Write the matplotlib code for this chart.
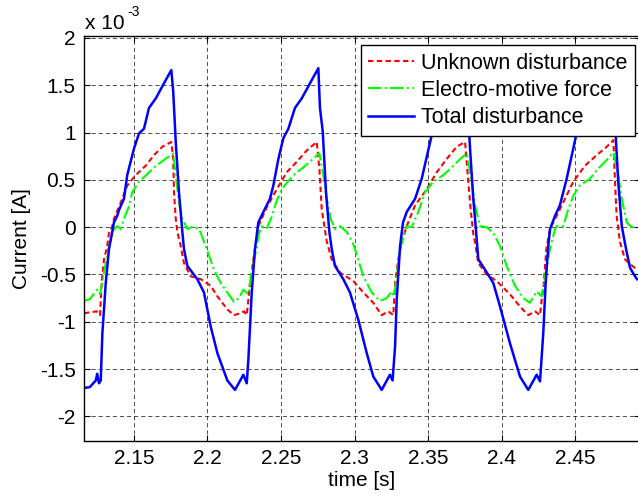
import numpy as np
import matplotlib
matplotlib.use("Agg")
import matplotlib.pyplot as plt
from matplotlib.ticker import FuncFormatter, MultipleLocator

plt.rcParams['font.family'] = ['Liberation Sans', 'DejaVu Sans']
plt.rcParams['axes.unicode_minus'] = False

# Unknown disturbance (x 1e-3 A)
t_unk = [2.1160, 2.1200, 2.1246, 2.1269, 2.1280, 2.1296, 2.1318, 2.1330, 2.1352, 2.1364,
         2.1410, 2.1454, 2.1512, 2.1580, 2.1636, 2.1693, 2.1754, 2.1767, 2.1772, 2.1784,
         2.1795, 2.1818, 2.1840, 2.1886, 2.1954, 2.2022, 2.2067, 2.2135, 2.2180, 2.2226,
         2.2248, 2.2267, 2.2289, 2.2312, 2.2323, 2.2346, 2.2403, 2.2471, 2.2539, 2.2607,
         2.2675, 2.2743, 2.2761, 2.2777, 2.2811, 2.2845, 2.2901, 2.2992, 2.3060, 2.3128,
         2.3185, 2.3230, 2.3264, 2.3276, 2.3298, 2.3321, 2.3355, 2.3412, 2.3491, 2.3559,
         2.3627, 2.3695, 2.3752, 2.3774, 2.3790, 2.3810, 2.3820, 2.3842, 2.3899, 2.3967,
         2.4058, 2.4126, 2.4182, 2.4228, 2.4262, 2.4273, 2.4284, 2.4305, 2.4330, 2.4352,
         2.4375, 2.4432, 2.4488, 2.4568, 2.4647, 2.4716, 2.4761, 2.4772, 2.4783, 2.4806,
         2.4840, 2.4874, 2.4922]
v_unk = [-0.91, -0.90, -0.89, -0.93, -0.59, -0.34, -0.20, -0.06, 0.01, 0.09,
         0.26, 0.44, 0.55, 0.65, 0.76, 0.85, 0.90, 0.72, 0.37, 0.09,
         -0.05, -0.20, -0.38, -0.52, -0.55, -0.62, -0.73, -0.87, -0.93, -0.91,
         -0.89, -0.93, -0.60, -0.34, -0.23, 0.01, 0.21, 0.40, 0.58, 0.69,
         0.81, 0.90, 0.62, 0.19, -0.15, -0.34, -0.48, -0.57, -0.69, -0.80,
         -0.93, -0.89, -0.93, -0.59, -0.34, -0.16, 0.01, 0.23, 0.40, 0.58,
         0.72, 0.85, 0.90, 0.48, 0.19, -0.10, -0.16, -0.38, -0.50, -0.57,
         -0.71, -0.84, -0.93, -0.89, -0.93, -0.77, -0.66, -0.23, -0.02, 0.05,
         0.12, 0.30, 0.48, 0.65, 0.76, 0.85, 0.92, 0.48, 0.12, -0.16,
         -0.34, -0.39, -0.45]

# Electro-motive force (x 1e-3 A)
t_emf = [2.1160, 2.1200, 2.1250, 2.1269, 2.1296, 2.1330, 2.1364, 2.1386, 2.1410, 2.1432,
         2.1466, 2.1488, 2.1534, 2.1590, 2.1636, 2.1704, 2.1767, 2.1784, 2.1806, 2.1829,
         2.1863, 2.1908, 2.1942, 2.1954, 2.1999, 2.2044, 2.2090, 2.2135, 2.2180, 2.2214,
         2.2244, 2.2278, 2.2301, 2.2335, 2.2346, 2.2368, 2.2403, 2.2437, 2.2471, 2.2505,
         2.2550, 2.2607, 2.2652, 2.2709, 2.2761, 2.2788, 2.2811, 2.2838, 2.2867, 2.2901,
         2.2947, 2.2992, 2.3003, 2.3060, 2.3117, 2.3173, 2.3219, 2.3253, 2.3269, 2.3287,
         2.3310, 2.3355, 2.3389, 2.3434, 2.3480, 2.3536, 2.3604, 2.3661, 2.3718, 2.3763,
         2.3797, 2.3820, 2.3854, 2.3899, 2.3944, 2.3990, 2.4035, 2.4092, 2.4148, 2.4193,
         2.4239, 2.4273, 2.4296, 2.4330, 2.4364, 2.4375, 2.4420, 2.4454, 2.4488, 2.4533,
         2.4601, 2.4658, 2.4716, 2.4761, 2.4794, 2.4818, 2.4852, 2.4886, 2.4922]
v_emf = [-0.78, -0.76, -0.66, -0.71, -0.48, -0.20, -0.02, 0.01, -0.02, 0.09,
         0.22, 0.37, 0.48, 0.56, 0.63, 0.71, 0.78, 0.55, 0.26, 0.09,
         -0.02, 0.01, -0.03, -0.06, -0.25, -0.45, -0.59, -0.69, -0.79, -0.75,
         -0.66, -0.71, -0.45, -0.22, -0.09, 0.01, -0.01, 0.11, 0.28, 0.40,
         0.49, 0.58, 0.63, 0.71, 0.78, 0.55, 0.30, 0.09, -0.02, 0.01,
         -0.05, -0.18, -0.23, -0.52, -0.69, -0.78, -0.75, -0.68, -0.73, -0.52,
         -0.23, 0.01, 0.00, 0.16, 0.37, 0.48, 0.55, 0.63, 0.72, 0.78,
         0.48, 0.23, 0.01, 0.00, -0.06, -0.20, -0.41, -0.62, -0.75, -0.80,
         -0.68, -0.73, -0.52, -0.23, -0.02, 0.01, 0.01, 0.19, 0.33, 0.44,
         0.51, 0.62, 0.71, 0.79, 0.55, 0.30, 0.05, 0.00, 0.01]

# Total disturbance (x 1e-3 A)
t_tot = [2.1160, 2.1200, 2.1240, 2.1250, 2.1262, 2.1274, 2.1285, 2.1308, 2.1330, 2.1364,
         2.1386, 2.1398, 2.1432, 2.1454, 2.1500, 2.1534, 2.1568, 2.1602, 2.1648, 2.1704,
         2.1754, 2.1767, 2.1784, 2.1806, 2.1829, 2.1840, 2.1863, 2.1931, 2.1976, 2.2022,
         2.2067, 2.2135, 2.2187, 2.2244, 2.2267, 2.2278, 2.2301, 2.2323, 2.2346, 2.2380,
         2.2425, 2.2448, 2.2482, 2.2516, 2.2550, 2.2595, 2.2641, 2.2697, 2.2754, 2.2765,
         2.2784, 2.2806, 2.2829, 2.2845, 2.2867, 2.2924, 2.2969, 2.3026, 2.3083, 2.3128,
         2.3185, 2.3241, 2.3259, 2.3276, 2.3287, 2.3310, 2.3330, 2.3355, 2.3412, 2.3457,
         2.3525, 2.3570, 2.3600, 2.3650, 2.3700, 2.3752, 2.3765, 2.3781, 2.3786, 2.3808,
         2.3820, 2.3842, 2.3888, 2.3944, 2.3990, 2.4058, 2.4126, 2.4182, 2.4239, 2.4262,
         2.4284, 2.4300, 2.4318, 2.4330, 2.4364, 2.4397, 2.4443, 2.4488, 2.4533, 2.4570,
         2.4620, 2.4680, 2.4752, 2.4772, 2.4779, 2.4794, 2.4818, 2.4847, 2.4874, 2.4908,
         2.4922]
v_tot = [-1.70, -1.69, -1.62, -1.55, -1.65, -1.62, -1.12, -0.59, -0.23, 0.05,
         0.12, 0.18, 0.30, 0.55, 0.83, 0.99, 1.04, 1.26, 1.36, 1.52,
         1.66, 1.43, 0.90, 0.37, -0.05, -0.23, -0.41, -0.55, -0.69, -1.05,
         -1.33, -1.62, -1.72, -1.56, -1.65, -1.40, -0.69, -0.23, 0.05, 0.16,
         0.30, 0.44, 0.72, 0.94, 1.04, 1.26, 1.36, 1.52, 1.68, 1.26,
         1.01, 0.37, -0.05, -0.23, -0.41, -0.55, -0.69, -0.98, -1.33, -1.58,
         -1.72, -1.56, -1.62, -1.26, -0.77, -0.20, 0.05, 0.16, 0.30, 0.51,
         0.97, 1.04, 1.26, 1.36, 1.52, 1.67, 1.30, 0.97, 0.83, 0.30,
         0.09, -0.34, -0.45, -0.59, -0.84, -1.23, -1.58, -1.72, -1.56, -1.63,
         -1.12, -0.60, -0.20, -0.02, 0.12, 0.23, 0.51, 0.83, 1.15, 1.28,
         1.38, 1.53, 1.68, 1.20, 0.90, 0.48, 0.01, -0.23, -0.43, -0.52,
         -0.55]

x_ticks = [2.15, 2.2, 2.25, 2.3, 2.35, 2.4, 2.45]
scale = 1e-3

fig = plt.figure(figsize=(6.38, 5.01), dpi=100)
ax = fig.add_axes([84 / 638, 60 / 501, 556 / 638, 405 / 501])

ax.plot(t_unk, np.array(v_unk) * scale, color=(1, 0, 0), lw=1.5,
        dashes=(2.6, 1.6), label='Unknown disturbance')
ax.plot(t_emf, np.array(v_emf) * scale, color=(0, 1, 0), lw=1.5,
        ls='-.', label='Electro-motive force')
ax.plot(t_tot, np.array(v_tot) * scale, color=(0, 0, 1), lw=1.8,
        label='Total disturbance')

ax.set_xlim(2.116, 2.4942)
ax.set_ylim(-2.26e-3, 2.02e-3)
ax.set_xticks(x_ticks)
ax.set_xticklabels([f'{x:g}' for x in x_ticks])
ax.yaxis.set_major_locator(MultipleLocator(0.5e-3))
ax.yaxis.set_major_formatter(FuncFormatter(lambda v, p: f'{v / scale:g}'))

ax.grid(True, color='black', ls=(0, (5, 3.5)), lw=0.6, alpha=0.8)
ax.tick_params(direction='in', length=4, width=0.8, labelsize=15, pad=6,
               top=True, right=True)
for sp in ax.spines.values():
    sp.set_linewidth(1.0)

ax.set_xlabel('time [s]', fontsize=15, labelpad=2)
ax.set_ylabel('Current [A]', fontsize=15, labelpad=6)

# exponent label above the y axis
fig.text(85 / 638, 1 - 29 / 501, 'x 10', fontsize=15, ha='left', va='baseline')
fig.text(127 / 638, 1 - 16 / 501, '-3', fontsize=10, ha='left', va='baseline')

leg = ax.legend(loc='upper right', bbox_to_anchor=((635 - 84) / 556, (441 - 45) / 405),
                borderaxespad=0, fontsize=15.5, handlelength=2.1, handletextpad=0.35,
                labelspacing=0.3, borderpad=0.35, fancybox=False, framealpha=1,
                edgecolor='black')
leg.get_frame().set_linewidth(1.0)
leg.set_zorder(10)

fig.savefig('out.png', dpi=100)
